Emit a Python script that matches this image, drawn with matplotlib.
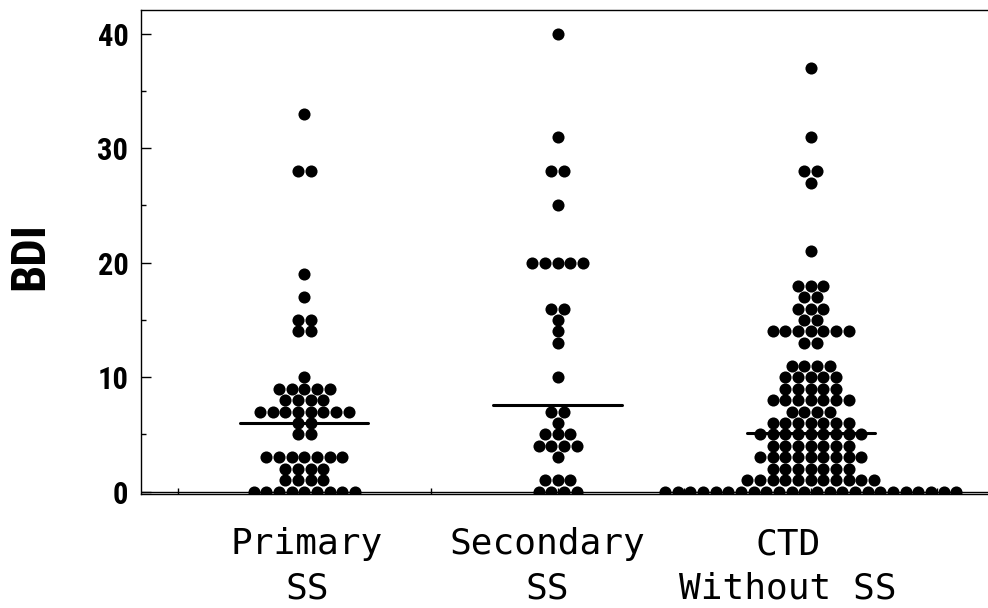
"""
BDI scores by group : dot plot with median lines
"""

import matplotlib
matplotlib.use("Agg")
import matplotlib.pyplot as plt
from matplotlib import font_manager
from matplotlib.ticker import MultipleLocator, FixedLocator

# valeurs (score BDI -> nombre de patients)
groups = ["Primary\nSS", "Secondary\nSS", "CTD\nWithout SS"]

primary_values = [0, 1, 2, 3, 5, 6, 7, 8, 9, 10, 14, 15, 17, 19, 28, 33]
primary_counts = [9, 4, 4, 7, 2, 2, 8, 4, 5, 1, 2, 2, 1, 1, 2, 1]

secondary_values = [0, 1, 3, 4, 5, 6, 7, 10, 13, 14, 15, 16, 20, 25, 28, 31, 40]
secondary_counts = [4, 3, 1, 4, 3, 1, 2, 1, 1, 1, 1, 2, 5, 1, 2, 1, 1]

ctd_values = [0, 1, 2, 3, 4, 5, 6, 7, 8, 9, 10, 11, 13, 14, 15, 16, 17, 18,
              21, 27, 28, 31, 37]
ctd_counts = [24, 11, 7, 9, 7, 9, 7, 4, 7, 5, 5, 4, 2, 7, 2, 3, 2, 3,
              1, 1, 2, 1, 1]

median_lines = [6.0, 7.6, 5.1]

yticks_major = [0, 10, 20, 30, 40]


def pick_font(candidates):
    """premiere famille installee"""
    names = {f.name for f in font_manager.fontManager.ttflist}
    for name in candidates:
        if name in names:
            return name
    return "DejaVu Sans"


NARROW = pick_font(["Liberation Sans Narrow", "Roboto Condensed", "DejaVu Sans"])
MONO = pick_font(["DejaVu Sans Mono", "Liberation Mono"])

fig = plt.figure(figsize=(9.88, 6.08), dpi=100)
ax = fig.add_axes([141 / 988, 1 - 494 / 608, 1 - 141 / 988, (494 - 10) / 608])

step = 0.05  # ecart horizontal entre points
all_data = [
    (primary_values, primary_counts),
    (secondary_values, secondary_counts),
    (ctd_values, ctd_counts),
]
for i, (values, counts) in enumerate(all_data):
    center = i + 1
    xs, ys = [], []
    for val, n in zip(values, counts):
        for k in range(n):
            xs.append(center + (k - (n - 1) / 2) * step)
            ys.append(val)
    ax.plot(xs, ys, "o", color="black", ms=8.7, mew=0, zorder=3)
    ax.plot([center - 0.253, center + 0.253], [median_lines[i]] * 2,
            color="black", lw=2.2, zorder=4, solid_capstyle="round")

ax.axhline(0, color="black", lw=1.0, zorder=2)

ax.set_xlim(0.355, 3.70)
ax.set_ylim(-0.2, 42.07)

ax.spines["right"].set_visible(False)
for side in ["left", "top", "bottom"]:
    ax.spines[side].set_linewidth(1.0)

# axe y
ax.yaxis.set_major_locator(FixedLocator(yticks_major))
ax.yaxis.set_minor_locator(MultipleLocator(5))
ax.tick_params(axis="y", which="major", direction="in", length=7, width=1,
               pad=9, labelsize=22)
ax.tick_params(axis="y", which="minor", direction="in", length=3.5, width=1)
for lbl in ax.get_yticklabels():
    lbl.set_fontfamily(NARROW)
    lbl.set_fontweight("bold")

# axe x : etiquettes decalees comme sur la figure
label_pos = [1.01, 1.96, 2.91]
ax.xaxis.set_major_locator(FixedLocator(label_pos))
ax.set_xticklabels(groups)
ax.xaxis.set_minor_locator(FixedLocator([0.5, 1, 1.5, 2, 2.5, 3, 3.5]))
ax.tick_params(axis="x", which="major", length=0, pad=24, labelsize=26)
ax.tick_params(axis="x", which="minor", direction="in", length=4.5, width=1)
for lbl in ax.get_xticklabels():
    lbl.set_fontfamily(MONO)
    lbl.set_linespacing(1.38)

fig.text(30 / 988, 1 - 256 / 608, "BDI", rotation=90, ha="center", va="center",
         fontsize=35, fontweight="bold", family=NARROW)

fig.savefig("out.png", dpi=100)
